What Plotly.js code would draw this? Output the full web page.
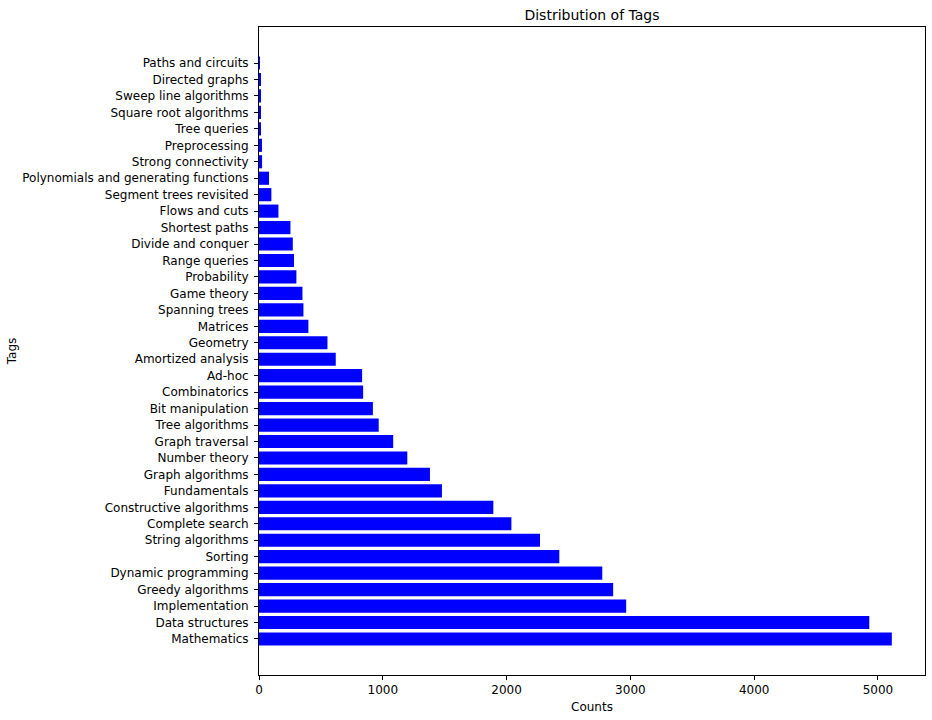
<!DOCTYPE html>
<html>
<head>
<meta charset="utf-8">
<script src="https://cdn.plot.ly/plotly-3.0.1.min.js"></script>
<style>html,body{margin:0;padding:0;background:#fff;}#chart{width:932px;height:720px;}</style>
</head>
<body>
<div id="chart"></div>
<script>
// Categories listed bottom (index 0) to top
const tags = [
  "Mathematics", "Data structures", "Implementation", "Greedy algorithms",
  "Dynamic programming", "Sorting", "String algorithms", "Complete search",
  "Constructive algorithms", "Fundamentals", "Graph algorithms", "Number theory",
  "Graph traversal", "Tree algorithms", "Bit manipulation", "Combinatorics",
  "Ad-hoc", "Amortized analysis", "Geometry", "Matrices", "Spanning trees",
  "Game theory", "Probability", "Range queries", "Divide and conquer",
  "Shortest paths", "Flows and cuts", "Segment trees revisited",
  "Polynomials and generating functions", "Strong connectivity", "Preprocessing",
  "Tree queries", "Square root algorithms", "Sweep line algorithms",
  "Directed graphs", "Paths and circuits"
];
const counts = [
  5112, 4930, 2966, 2861,
  2773, 2426, 2270, 2039,
  1893, 1478, 1381, 1198,
  1084, 967, 920, 841,
  833, 620, 553, 399, 359,
  351, 302, 283, 273,
  254, 157, 100,
  81, 25, 24,
  14, 13, 13,
  12, 3
];
const xTicks = [0, 1000, 2000, 3000, 4000, 5000];
const xTickText = ["0", "1000", "2000", "3000", "4000", "5000"];

const font = {family: "DejaVu Sans", color: "#000"};

Plotly.newPlot("chart", [{
  type: "bar",
  orientation: "h",
  y: tags,
  x: counts,
  width: 0.8,
  marker: {color: "#0000ff", line: {width: 0}},
  hoverinfo: "x+y"
}], {
  width: 932,
  height: 720,
  paper_bgcolor: "#fff",
  plot_bgcolor: "#fff",
  margin: {l: 259, r: 7, t: 27, b: 45, pad: 0},
  font: Object.assign({size: 12}, font),
  showlegend: false,
  title: {
    text: "Distribution of Tags",
    font: Object.assign({size: 14}, font),
    x: 0.5, xref: "paper", xanchor: "center",
    y: 1 - 15/720, yref: "container", yanchor: "middle"
  },
  xaxis: {
    range: [0, 5380],
    tickvals: xTicks,
    ticktext: xTickText,
    ticks: "outside", ticklen: 4, tickwidth: 1, tickcolor: "#000",
    showline: true, linecolor: "#000", linewidth: 1, mirror: true,
    showgrid: false, zeroline: false,
    tickfont: Object.assign({size: 12}, font),
    automargin: false,
    title: {text: "Counts", font: Object.assign({size: 12}, font), standoff: 6}
  },
  yaxis: {
    type: "category",
    range: [-2.19, 37.19],
    ticks: "outside", ticklen: 4, tickwidth: 1, tickcolor: "#000",
    ticklabelstandoff: 3,
    showline: true, linecolor: "#000", linewidth: 1, mirror: true,
    showgrid: false, zeroline: false,
    tickfont: Object.assign({size: 12}, font),
    automargin: false,
    title: {text: "Tags", font: Object.assign({size: 12}, font), standoff: 3}
  },
  bargap: 0.2
}, {displayModeBar: false});
</script>
</body>
</html>
